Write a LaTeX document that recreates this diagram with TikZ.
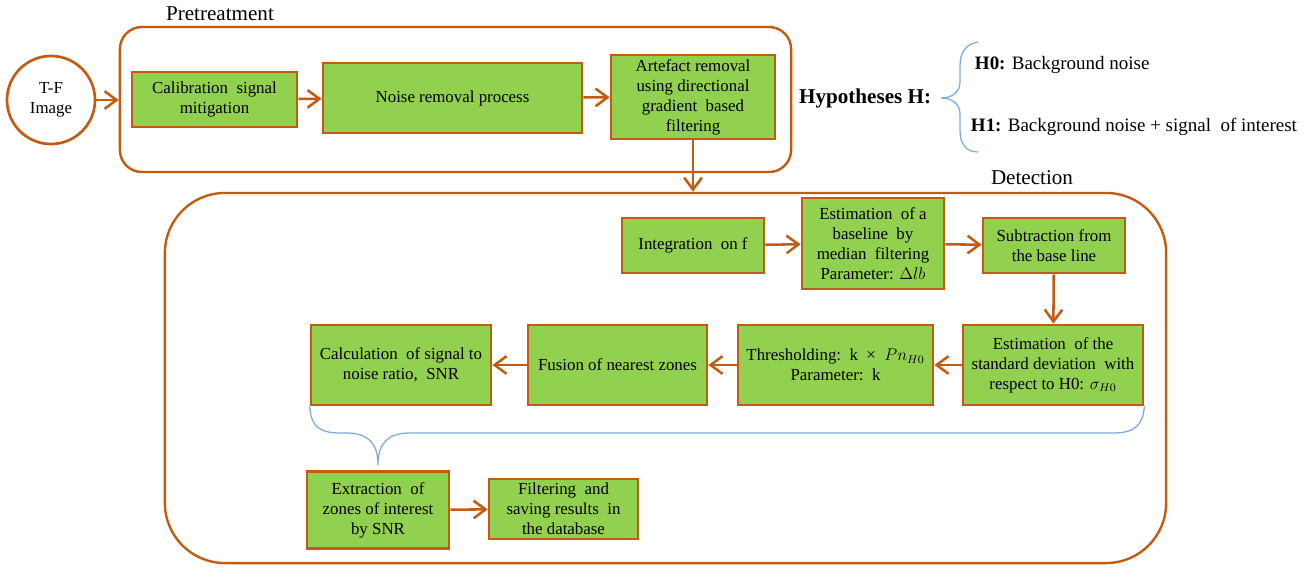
\documentclass[tikz,border=0pt]{standalone}
\usepackage{fontspec}
\setmainfont{Liberation Serif}
\usetikzlibrary{arrows.meta}

\definecolor{oranye}{RGB}{197,90,17}
\definecolor{hijau}{RGB}{146,208,80}
\definecolor{biru}{RGB}{125,172,220}

\begin{document}
\begin{tikzpicture}[
  x=0.025cm, y=-0.025cm,
  every node/.style={font=\fontsize{12}{14.2}\selectfont},
  kotak/.style={
    rectangle, draw=oranye, line width=1.9pt, fill=hijau,
    inner sep=1pt, align=center
  },
  grup/.style={
    rectangle, draw=oranye, line width=1.7pt, fill=none
  },
  lingkaran/.style={
    circle, draw=oranye, line width=1.9pt, fill=white,
    minimum size=2.2cm, inner sep=0pt, align=center
  },
  judul/.style={font=\fontsize{15}{18}\selectfont},
  hipotesis/.style={font=\fontsize{13.5}{16}\selectfont, anchor=west},
  kurung/.style={draw=biru, line width=0.9pt},
  arrow/.style={-{Straight Barb[length=3mm,width=4.4mm]}, draw=oranye, line width=1.8pt}
]

\useasboundingbox (0,0) rectangle (1306,567);

\node[grup, rounded corners=0.55cm, minimum width=16.775cm, minimum height=3.625cm] (pre) at (455.5,99.5) {};
\node[grup, rounded corners=1.5cm, minimum width=25.025cm, minimum height=9.25cm] (det) at (665.5,378) {};
\node[judul] (prelabel) at (220,14) {Pretreatment};
\node[judul] (detlabel) at (1032,178) {Detection};

\node[lingkaran] (tf) at (51,100) {T-F\\Image};
\node[kotak, minimum width=4.125cm, minimum height=1.375cm] (calib) at (214.5,99.5) {Calibration\ \ signal\\mitigation};
\node[kotak, minimum width=6.475cm, minimum height=1.75cm] (noise) at (452.5,98) {Noise removal process};
\node[kotak, minimum width=4.1cm, minimum height=2.1cm] (artef) at (693,97) {Artefact removal\\using directional\\gradient\ \ based\\filtering};

\node[kotak, minimum width=3.55cm, minimum height=1.375cm] (integ) at (693,245.5) {Integration\ \ on f};
\node[kotak, minimum width=3.55cm, minimum height=2.275cm] (baseline) at (873,243.5) {Estimation\ \ of a\\baseline\ \ by\\median\ \ filtering\\Parameter: $\Delta lb$};
\node[kotak, minimum width=3.55cm, minimum height=1.375cm] (subtr) at (1054,245.5) {Subtraction from\\the base line};

\node[kotak, minimum width=4.5cm, minimum height=2cm] (stddev) at (1053,365) {Estimation\ \ of the\\standard deviation\ \ with\\respect to H0: $\sigma_{H0}$};
\node[kotak, minimum width=4.875cm, minimum height=2cm] (thresh) at (835.5,365) {Thresholding:\ \ k\ \ ×\ \ $Pn_{H0}$\\Parameter:\ \ k};
\node[kotak, minimum width=4.475cm, minimum height=2cm] (fusion) at (617.5,365) {Fusion of nearest zones};
\node[kotak, minimum width=4.5cm, minimum height=2cm] (calc) at (401,365) {Calculation\ \ of signal to\\noise ratio,\ \ SNR};

\node[kotak, minimum width=3.55cm, minimum height=1.925cm] (extract) at (378,510) {Extraction\ \ of\\zones of interest\\by SNR};
\node[kotak, minimum width=3.725cm, minimum height=1.5cm] (filter) at (563.5,509) {Filtering\ \ and\\saving results\ \ in\\the database};

\node[font=\fontsize{15}{18}\selectfont\bfseries, anchor=east] (hipo) at (936,98) {Hypotheses H:};
\node[hipotesis] (h0) at (970,65) {\textbf{H0:} Background noise};
\node[hipotesis] (h1) at (966,127) {\textbf{H1:} Background noise + signal\ \ of interest};

\draw[kurung] (978,42) .. controls (966,44) and (960,52) .. (960,66) -- (960,82)
  .. controls (960,92) and (952,98) .. (941,98)
  .. controls (952,98) and (960,104) .. (960,114) -- (960,130)
  .. controls (960,144) and (966,152) .. (978,152);
\draw[kurung] (calc.south west) .. controls (311,425) and (318,433) .. (340,433) -- (346,433)
  .. controls (368,433) and (378,443) .. (378,465)
  .. controls (378,443) and (388,433) .. (410,433) -- (1113,433)
  .. controls (1135,433) and (1143,425) .. (stddev.south east);

\draw[arrow] (tf)       -- (tf -| pre.west);
\draw[arrow] (calib)    -- (noise);
\draw[arrow] (noise)    -- (artef);
\draw[arrow] (artef)    -- (artef |- det.north);
\draw[arrow] (integ)    -- (baseline);
\draw[arrow] (baseline) -- (subtr);
\draw[arrow] (subtr)    -- (stddev);
\draw[arrow] (stddev)   -- (thresh);
\draw[arrow] (thresh)   -- (fusion);
\draw[arrow] (fusion)   -- (calc);
\draw[arrow] (extract)  -- (filter);

\end{tikzpicture}
\end{document}
